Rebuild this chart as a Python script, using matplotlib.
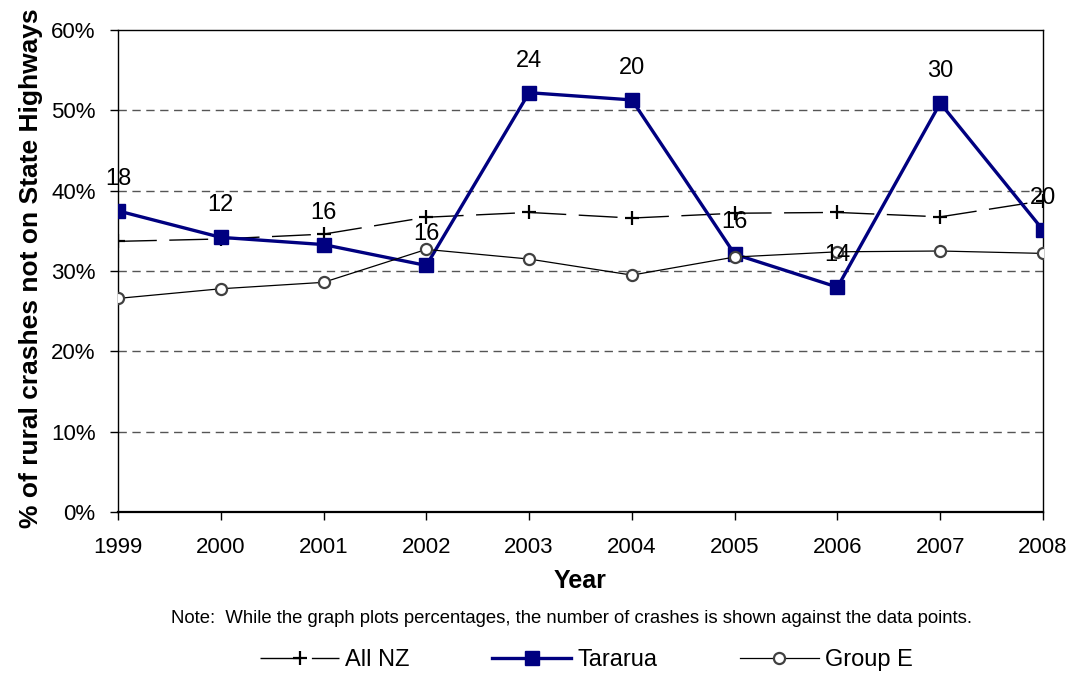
import numpy as np
from matplotlib import pyplot as plt
from matplotlib.ticker import PercentFormatter

plt.rcParams["font.family"] = ["Liberation Sans", "DejaVu Sans"]

# values
years = ["1999", "2000", "2001", "2002", "2003", "2004", "2005", "2006", "2007", "2008"]
all_nz = [33.7, 34.0, 34.6, 36.7, 37.3, 36.6, 37.2, 37.3, 36.75, 38.75]
tararua = [37.5, 34.2, 33.3, 30.7, 52.2, 51.3, 32.1, 28.0, 50.9, 35.1]
group_e = [26.6, 27.8, 28.6, 32.7, 31.5, 29.5, 31.75, 32.4, 32.5, 32.2]
crash_counts = [18, 12, 16, 16, 24, 20, 16, 14, 30, 20]

fig = plt.figure(figsize=(10.72, 6.82), dpi=100)
ax = fig.add_axes([0.110, 0.249, 0.863, 0.707])

x = np.arange(len(years))

ax.plot(x, all_nz, color="black", lw=1.0, dashes=(28, 9), marker="+",
        markersize=10, markeredgewidth=1.6, label="All NZ", zorder=3)
ax.plot(x, tararua, color="#000080", lw=2.4, marker="s", markersize=10,
        label="Tararua", zorder=4)
ax.plot(x, group_e, color="black", lw=0.9, marker="o", markersize=8,
        markerfacecolor="white", markeredgecolor="#404040", markeredgewidth=1.6,
        label="Group E", zorder=5)

for xi, yi, n in zip(x, tararua, crash_counts):
    ax.annotate(str(n), (xi, yi), xytext=(0, 23), textcoords="offset points",
                ha="center", va="center", fontsize=17, zorder=6)

ax.set_xlim(0, len(years) - 1)
ax.set_ylim(0, 60)
ax.set_yticks(np.arange(0, 61, 10))
ax.yaxis.set_major_formatter(PercentFormatter(decimals=0))
ax.set_xticks(x)
ax.set_xticklabels(years)

for v in range(10, 60, 10):
    ax.axhline(v, color="#555555", lw=1.0, dashes=(6, 4), zorder=1)

ax.tick_params(axis="both", labelsize=16, direction="out", length=6, width=1)
ax.tick_params(axis="x", pad=12)
ax.tick_params(axis="y", pad=10)
for s in ax.spines.values():
    s.set_linewidth(1.0)
ax.spines["bottom"].set_linewidth(1.6)

ax.set_xlabel("Year", fontsize=18, fontweight="bold", labelpad=8)
ax.set_ylabel("% of rural crashes not on State Highways", fontsize=19,
              fontweight="bold")
ax.yaxis.set_label_coords(-0.081, 0.505)

fig.text(0.533, 0.093, "Note:  While the graph plots percentages, the number of crashes is shown against the data points.",
         ha="center", va="center", fontsize=13.3)

fig.legend(loc="center", bbox_to_anchor=(0.547, 0.032), ncol=3, frameon=False,
           fontsize=17, handlelength=3.35, columnspacing=3.5, handletextpad=0.25)

fig.savefig("out.png", dpi=100)
